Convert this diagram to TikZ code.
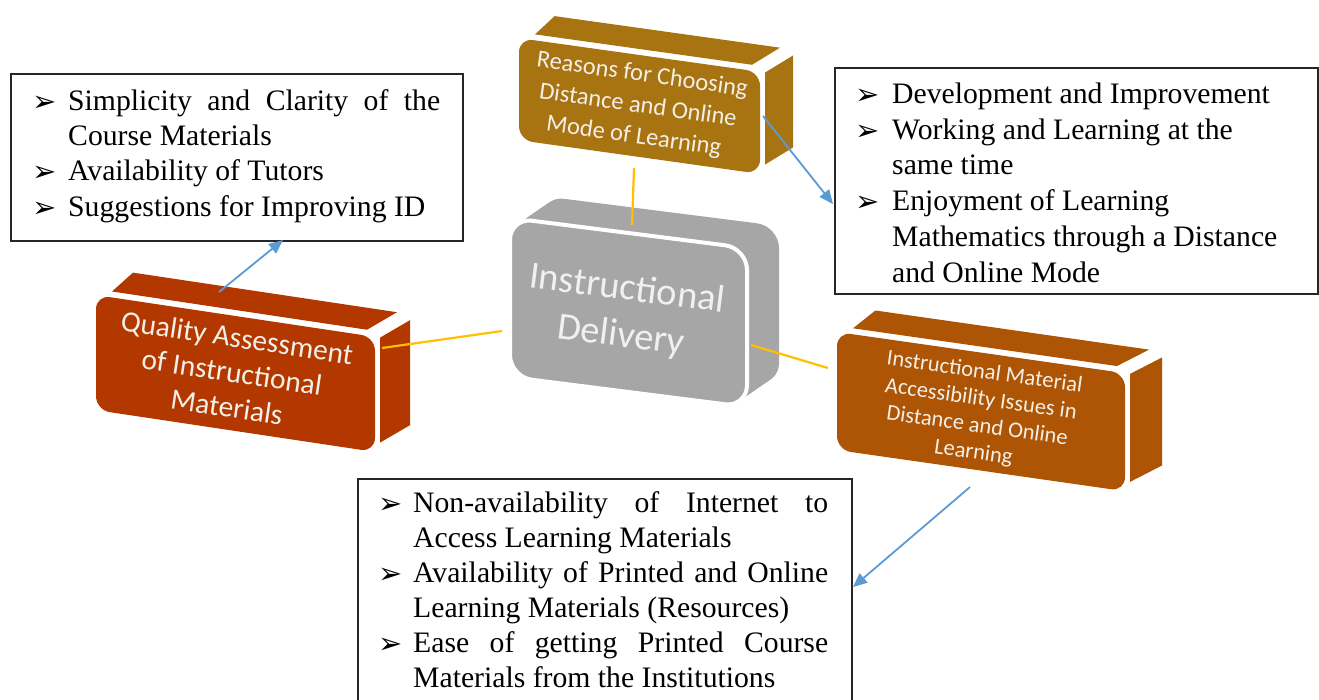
\documentclass[tikz,border=0pt]{standalone}
\usepackage{fontspec}
\setmainfont{Liberation Serif}
\newfontfamily\carlito{Carlito}
\newfontfamily\dejavu{DejaVu Sans}
\usetikzlibrary{arrows.meta}
\definecolor{rsfill}{HTML}{A87412}
\definecolor{qafill}{HTML}{B23800}
\definecolor{imfill}{HTML}{AD5505}
\definecolor{gyfill}{HTML}{A6A6A6}
\definecolor{lbltext}{HTML}{F3EEE6}
\definecolor{conyellow}{HTML}{FFC000}
\definecolor{conblue}{HTML}{5B9BD5}
\newcommand\bul{{\dejavu\bfseries\fontsize{29}{29}\selectfont\raisebox{-1pt}{➢}}}
\newcommand\natsp{\spaceskip=0pt\xspaceskip=0pt\relax}
\newcommand\jl[2]{\makebox[#1][s]{\natsp #2}}
% cx, cy, w, h, slant, colour, dx, dy (local)
\newcommand\slabbox[8]{%
\begin{scope}[shift={(#1,#2)}, yslant=#5]
 \fill[#6] ({-#3/2+16},{-#4/2-6}) -- ({#3/2-8},{-#4/2-6}) -- ++(#7,#8) -- ({-#3/2+16+0.7*#7},{-#4/2-6+#8}) -- cycle;
 \fill[#6] ({#3/2+5},{-#4/2}) -- ({#3/2+5},{#4/2-10}) -- ++(#7,#8) -- ({#3/2+5+#7},{-#4/2+#8}) -- cycle;
 \fill[#6, rounded corners=14pt] ({-#3/2},{-#4/2}) -- ({#3/2},{-#4/2}) -- ({#3/2},{#4/2}) -- ({-#3/2},{#4/2}) -- cycle;
\end{scope}}
\tikzset{
 listtxt/.style={inner sep=0pt, anchor=north west, align=left},
 tbox/.style={draw=black!85, line width=1.5pt, inner sep=0pt, anchor=north west},
 yel/.style={draw=conyellow, line width=2.2pt},
 blu/.style={draw=conblue, line width=1.8pt, -{Triangle[length=14pt,width=12pt]}},
 lbl/.style={align=center, text=lbltext, inner sep=0pt},
}
\begin{document}
\begin{tikzpicture}[x=1pt, y=-1pt]
\clip (0,0) rectangle (1319,699);
\fill[white] (0,0) rectangle (1319,699);

% ---------- 3D boxes ----------
\slabbox{639.5}{106}{241}{102}{-0.14}{rsfill}{28}{-21}
\slabbox{235.5}{373.5}{279}{115}{-0.15}{qafill}{30}{-22}
\slabbox{981}{411.6}{288}{118}{-0.143}{imfill}{32}{-21}

% central grey box
\begin{scope}[shift={(628.5,312.5)}, yslant=-0.127]
 \foreach \t in {0,0.05,...,1.01}
   \fill[gyfill, rounded corners=22pt, shift={(\t*32,-\t*26)}] (-118.5,-79.5) -- (118.5,-79.5) -- (118.5,79.5) -- (-118.5,79.5) -- cycle;
 \draw[white, line width=4pt, fill=gyfill, rounded corners=22pt] (-118.5,-79.5) -- (118.5,-79.5) -- (118.5,79.5) -- (-118.5,79.5) -- cycle;
\end{scope}

% ---------- labels of 3D boxes ----------
\node[lbl, font=\carlito\fontsize{24.5}{31}\selectfont, rotate=-8] (rsT) at (638,106) {Reasons for Choosing\\Distance and Online\\Mode of Learning};
\node[lbl, font=\carlito\fontsize{29.5}{35}\selectfont, rotate=-8.5] (qaT) at (232,372) {Quality Assessment\\of Instructional\\Materials};
\node[lbl, font=\carlito\fontsize{22.5}{27}\selectfont, rotate=-8] (imT) at (979,413) {Instructional Material\\Accessibility Issues in\\Distance and Online\\Learning};
\node[lbl, font=\carlito\fontsize{38.5}{47}\selectfont, rotate=-7.2, text=white!94!black] (gdT) at (624,313) {Instructional\\Delivery};

% ---------- text boxes ----------
\node[tbox, minimum width=452pt, minimum height=167pt] (bxA) at (10,73) {};
\node[listtxt, text width=408pt, font=\fontsize{29.7}{35.3}\selectfont] (txA) at (32,85) {\natsp
\rule{0pt}{25pt}\makebox[36pt][l]{\bul}\jl{372pt}{Simplicity and Clarity of the}\\
\hspace*{36pt}Course Materials\\
\makebox[36pt][l]{\bul}Availability of Tutors\\
\makebox[36pt][l]{\bul}Suggestions for Improving ID};

\node[tbox, minimum width=483pt, minimum height=226pt] (bxB) at (834,67) {};
\node[listtxt, text width=450pt, font=\fontsize{29.7}{35.8}\selectfont] (txB) at (855,78) {\natsp
\rule{0pt}{25pt}\makebox[37pt][l]{\bul}Development and Improvement\\
\makebox[37pt][l]{\bul}Working and Learning at the\\
\hspace*{37pt}same time\\
\makebox[37pt][l]{\bul}Enjoyment of Learning\\
\hspace*{37pt}Mathematics through a Distance\\
\hspace*{37pt}and Online Mode};

\node[tbox, minimum width=494pt, minimum height=260pt] (bxC) at (357,478) {};
\node[listtxt, text width=450pt, font=\fontsize{29.7}{35}\selectfont] (txC) at (378,487) {\natsp
\rule{0pt}{25pt}\makebox[35pt][l]{\bul}\jl{415pt}{Non-availability of Internet to}\\
\hspace*{35pt}Access Learning Materials\\
\makebox[35pt][l]{\bul}\jl{415pt}{Availability of Printed and Online}\\
\hspace*{35pt}Learning Materials (Resources)\\
\makebox[35pt][l]{\bul}\jl{415pt}{Ease of getting Printed Course}\\
\hspace*{35pt}Materials from the Institutions};

% ---------- connector end points ----------
\coordinate (rsB) at (634,168);
\coordinate (gdTop) at (632,225);
\coordinate (qaR) at (382,348);
\coordinate (gdL) at (502,331);
\coordinate (gdR) at (751,345);
\coordinate (imL) at (828,368);
\coordinate (qaTop) at (219,292);
\coordinate (bxAin) at (283,240);
\coordinate (rsR) at (763,116);
\coordinate (bxBin) at (833,204);
\coordinate (imBot) at (970,487);
\coordinate (bxCin) at (853,587);

% ---------- connectors ----------
\draw[yel] (rsB) -- (gdTop);
\draw[yel] (qaR) -- (gdL);
\draw[yel] (gdR) -- (imL);
\draw[blu] (qaTop) -- (bxAin);
\draw[blu] (rsR) -- (bxBin);
\draw[blu] (imBot) -- (bxCin);
\end{tikzpicture}
\end{document}
